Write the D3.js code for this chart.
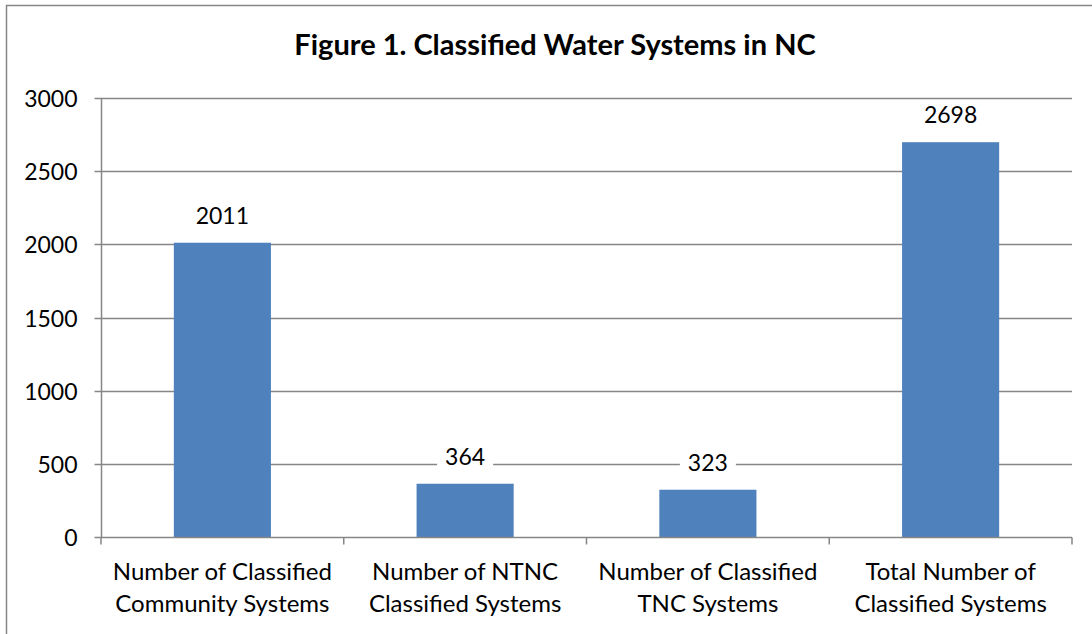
<!DOCTYPE html>
<html><head><meta charset="utf-8">
<script src="https://cdn.jsdelivr.net/npm/d3@7"></script>
<style>
html,body{margin:0;padding:0;background:#fff;}
svg{display:block;}
text{font-family:Lato,"Open Sans",sans-serif;fill:#000;}
</style></head>
<body>
<svg id="chart" width="1092" height="634"></svg>
<script>
const title = "Figure 1. Classified Water Systems in NC";
const categories = [
  ["Number of Classified", "Community Systems"],
  ["Number of NTNC", "Classified Systems"],
  ["Number of Classified", "TNC Systems"],
  ["Total Number of", "Classified Systems"]
];
const values = [2011, 364, 323, 2698];
const yTicks = [0, 500, 1000, 1500, 2000, 2500, 3000];

const svg = d3.select("#chart");
const W = 1092, H = 634;
const m = {left: 101, right: 1072, top: 98, bottom: 537};

// chart border
svg.append("rect").attr("x", 6.5).attr("y", 5.5).attr("width", W + 20).attr("height", H + 20)
  .attr("fill", "#fff").attr("stroke", "#868686").attr("stroke-width", 1.5);

const x = d3.scaleBand().domain(d3.range(categories.length)).range([m.left, m.right]).paddingInner(0.6).paddingOuter(0.3);
const xb = d3.scaleBand().domain(d3.range(categories.length)).range([m.left, m.right]);
const y = d3.scaleLinear().domain([0, 3000]).range([m.bottom, m.top]);

// gridlines
svg.append("g").selectAll("line").data(yTicks.filter(d => d > 0)).join("line")
  .attr("x1", m.left).attr("x2", m.right)
  .attr("y1", d => Math.round(y(d)) + 0.5).attr("y2", d => Math.round(y(d)) + 0.5)
  .attr("stroke", "#868686").attr("stroke-width", 1.5);

// y axis
const yAxis = d3.axisLeft(y).tickValues(yTicks).tickFormat(d3.format("d")).tickSize(7).tickPadding(17);
const gy = svg.append("g").attr("transform", `translate(${m.left + 0.5},0)`).call(yAxis);
gy.select(".domain").attr("stroke", "#868686").attr("stroke-width", 1.5).attr("d", `M0,${m.top}V${m.bottom}`);
gy.selectAll(".tick line").attr("stroke", "#868686").attr("stroke-width", 1.5);
gy.selectAll(".tick text").attr("font-size", 23).attr("font-family", "Lato, sans-serif").attr("fill", "#000").attr("dy", "0.35em");
gy.selectAll(".tick").attr("transform", d => `translate(0,${Math.round(y(d)) + 0.5})`);

// bars
svg.append("g").selectAll("rect").data(values).join("rect")
  .attr("x", (d, i) => x(i)).attr("width", x.bandwidth())
  .attr("y", d => y(d)).attr("height", d => y(0) - y(d))
  .attr("fill", "#4F81BD");

// x axis
const gx = svg.append("g").attr("transform", `translate(0,${Math.round(y(0)) + 0.5})`);
gx.append("line").attr("x1", m.left).attr("x2", m.right).attr("stroke", "#868686").attr("stroke-width", 1.5);
const bounds = d3.range(categories.length + 1).map(i => i < categories.length ? xb(i) : m.right);
gx.selectAll("line.t").data(bounds).join("line").attr("class", "t")
  .attr("x1", d => d).attr("x2", d => d).attr("y1", 0).attr("y2", 7)
  .attr("stroke", "#868686").attr("stroke-width", 1.5);
categories.forEach((lines, i) => {
  const t = gx.append("text").attr("text-anchor", "middle").attr("font-size", 24)
    .attr("transform", `translate(${xb(i) + xb.bandwidth() / 2},0)`);
  lines.forEach((l, k) => t.append("tspan").attr("x", 0).attr("y", 42 + k * 32).text(l));
});

// data labels with white box
const lg = svg.append("g").selectAll("g").data(values).join("g")
  .attr("transform", (d, i) => `translate(${x(i) + x.bandwidth() / 2},${y(d) - 27})`);
lg.append("rect").attr("x", -28).attr("y", -15).attr("width", 56).attr("height", 30).attr("fill", "#fff");
lg.append("text").attr("text-anchor", "middle").attr("dy", "0.35em").attr("font-size", 23).text(d => d);

// title
svg.append("text").attr("x", 555).attr("y", 55).attr("text-anchor", "middle")
  .attr("font-size", 29).attr("font-weight", "bold").text(title);
</script>
</body></html>
